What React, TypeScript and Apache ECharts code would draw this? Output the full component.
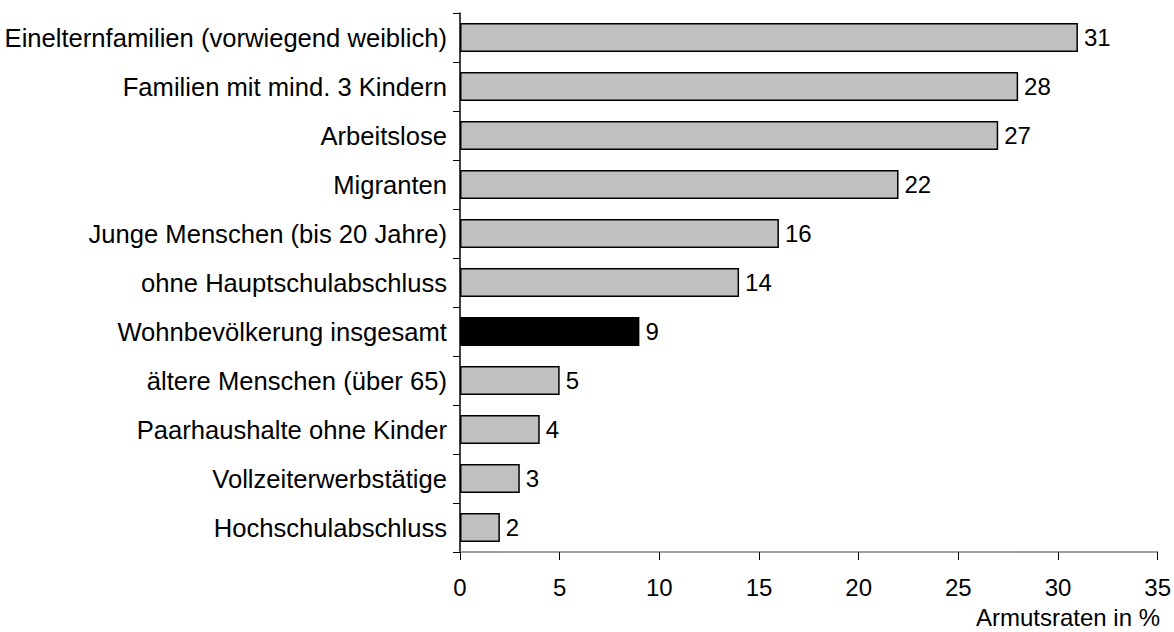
import React, { useEffect, useRef } from "react";
import * as echarts from "echarts";

const categories = [
  "Einelternfamilien (vorwiegend weiblich)",
  "Familien mit mind. 3 Kindern",
  "Arbeitslose",
  "Migranten",
  "Junge Menschen (bis 20 Jahre)",
  "ohne Hauptschulabschluss",
  "Wohnbevölkerung insgesamt",
  "ältere Menschen (über 65)",
  "Paarhaushalte ohne Kinder",
  "Vollzeiterwerbstätige",
  "Hochschulabschluss",
];
const values = [31, 28, 27, 22, 16, 14, 9, 5, 4, 3, 2];
const highlight = "Wohnbevölkerung insgesamt";
const axisTitle = "Armutsraten in %";

export default function App() {
  const ref = useRef<HTMLDivElement>(null);
  useEffect(() => {
    const chart = echarts.init(ref.current!, null, { renderer: "svg" });
    const font = "Liberation Sans, Arial, sans-serif";
    const fs = 24;
    chart.setOption({
      animation: false,
      textStyle: { fontFamily: font },
      grid: { left: 460, right: 15, top: 13, bottom: 80 },
      xAxis: {
        type: "value",
        min: 0,
        max: 35,
        interval: 5,
        splitLine: { show: false },
        axisLine: { show: true, lineStyle: { color: "#808080", width: 1.5 } },
        axisTick: { show: true, length: 8, lineStyle: { color: "#000", width: 1 } },
        axisLabel: { color: "#000", fontSize: fs, margin: 23, fontFamily: font },
      },
      yAxis: {
        type: "category",
        inverse: true,
        data: categories,
        axisLine: { show: true, lineStyle: { color: "#000", width: 1.5 } },
        axisTick: { show: true, length: 7, lineStyle: { color: "#000", width: 1 } },
        axisLabel: { color: "#000", fontSize: 25.6, margin: 13, fontFamily: font },
      },
      graphic: [
        {
          type: "text",
          right: 14,
          top: 605,
          style: { text: axisTitle, fontSize: fs, fill: "#000", fontFamily: font },
        },
      ],
      series: [
        {
          type: "bar",
          barWidth: 29,
          data: categories.map((c, i) => ({
            value: values[i],
            itemStyle:
              c === highlight
                ? { color: "#000", borderColor: "#000", borderWidth: 1.5 }
                : { color: "#c0c0c0", borderColor: "#000", borderWidth: 1.5 },
          })),
          label: {
            show: true,
            position: "right",
            distance: 6,
            color: "#000",
            fontSize: fs,
            fontFamily: font,
          },
        },
      ],
    });
    return () => chart.dispose();
  }, []);
  return (
    <div
      ref={ref}
      style={{ position: "fixed", left: 0, top: 0, width: 1174, height: 632, background: "#fff" }}
    />
  );
}
